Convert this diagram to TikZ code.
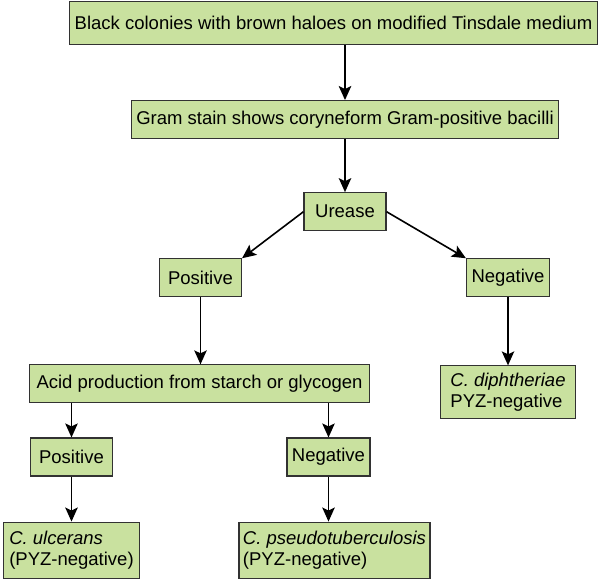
\documentclass[tikz,border=0pt]{standalone}
\usepackage{fontspec}
\setmainfont{Liberation Sans}
\usepackage{xcolor}
\usepackage{tikz}
\usetikzlibrary{arrows.meta,positioning}
\definecolor{boxgreen}{RGB}{201,225,159}
\definecolor{boxline}{RGB}{50,50,50}

\begin{document}
\begin{tikzpicture}[
    node distance=30pt,
    testbox/.style={draw=boxline, line width=1.1pt, fill=boxgreen, minimum width=82pt, minimum height=38pt, inner xsep=5pt, align=center, font=\fontsize{18.5}{21}\selectfont},
    resultbox/.style={testbox, align=left, inner xsep=6pt, inner ysep=7pt},
    arrow/.style={-{Stealth[length=14pt,width=12.5pt,inset=3pt]}, line width=1.6pt}
]
\useasboundingbox (0,0) rectangle (601pt,-579pt);
\node[testbox, minimum height=43pt] (colonies) at (333.5pt,-23pt) {Black colonies with brown haloes on modified Tinsdale medium};
\node[testbox, below=55pt of colonies, xshift=11.5pt] (gram) {Gram stain shows coryneform Gram-positive bacilli};
\node[testbox, below=53pt of gram] (ure) {Urease};
\node[testbox, below=27pt of ure, xshift=-144.5pt] (pos) {Positive};
\node[testbox, below=27pt of ure, xshift=163pt] (neg) {Negative};
\node[testbox, below=67pt of pos, xshift=-1pt, inner xsep=7pt] (acid) {Acid production from starch or glycogen};
\node[resultbox, below=68pt of neg, inner xsep=10pt] (cdiph) {\textit{C. diphtheriae}\\PYZ-negative};
\node[testbox, below=34pt of acid, xshift=-128pt] (pos2) {Positive};
\node[testbox, below=34pt of acid, xshift=129pt] (neg2) {Negative};
\node[resultbox, below=45pt of pos2, inner ysep=9pt] (cul) {\textit{C. ulcerans}\\(PYZ-negative)};
\node[resultbox, below=45pt of neg2, xshift=6pt, inner xsep=4pt, inner ysep=9pt] (cpseudo) {\textit{C. pseudotuberculosis}\\(PYZ-negative)};
\foreach \a/\b in {gram/ure,neg/cdiph,pos2/cul} {
    \draw[arrow] (\a) -- (\b);
}
\draw[arrow] (colonies.south -| gram) -- (gram);
\draw[arrow] (ure.west) -- (pos.north east);
\draw[arrow] (ure.east) -- (neg.north west);
\draw[arrow] (pos) -- (acid.north -| pos);
\draw[arrow] (acid.south -| pos2) -- (pos2);
\draw[arrow] (acid.south -| neg2) -- (neg2);
\draw[arrow] (neg2) -- (neg2 |- cpseudo.north);
\end{tikzpicture}
\end{document}
